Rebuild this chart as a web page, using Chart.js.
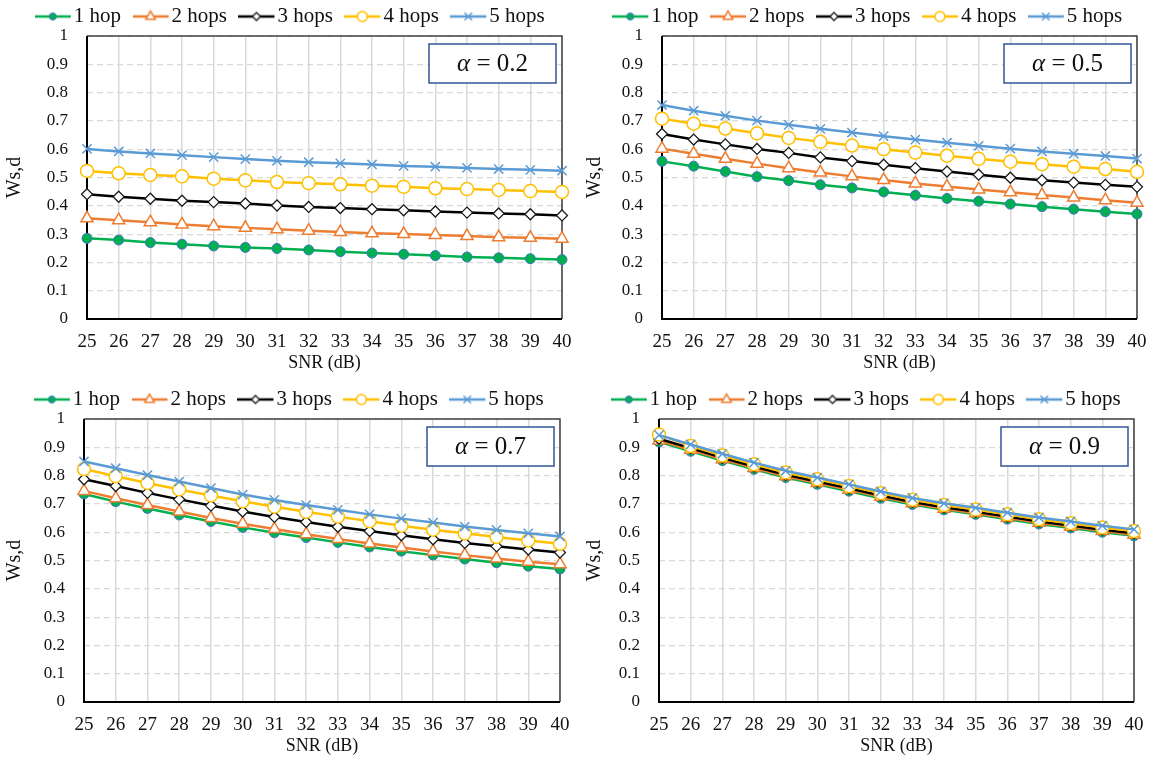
<!DOCTYPE html>
<html>
<head>
<meta charset="utf-8">
<title>Ws,d vs SNR</title>
<script src="https://cdn.jsdelivr.net/npm/chart.js@4.4.0/dist/chart.umd.min.js"></script>
<style>
    html, body { margin: 0; padding: 0; background: #fff; }
    #wrap { position: relative; width: 1160px; height: 761px; overflow: hidden; }
    .panel { position: absolute; width: 580px; height: 378px; }
</style>
</head>
<body>
<div id="wrap">
    <div class="panel" style="left:0;top:0"><canvas id="chartA02"></canvas></div>
    <div class="panel" style="left:580px;top:0"><canvas id="chartA05"></canvas></div>
    <div class="panel" style="left:0;top:383px"><canvas id="chartA07"></canvas></div>
    <div class="panel" style="left:580px;top:383px"><canvas id="chartA09"></canvas></div>
</div>
<script>
// SNR axis categories and y tick labels
const snr = ['25', '26', '27', '28', '29', '30', '31', '32', '33', '34', '35', '36', '37', '38', '39', '40'];
const yTickLabels = ['0', '0.1', '0.2', '0.3', '0.4', '0.5', '0.6', '0.7', '0.8', '0.9', '1'];
const hopNames = ['1 hop', '2 hops', '3 hops', '4 hops', '5 hops'];

// alpha = 0.2
const a02Hop1 = [0.285, 0.279, 0.270, 0.264, 0.258, 0.253, 0.249, 0.244, 0.238, 0.233, 0.229, 0.224, 0.219, 0.216, 0.213, 0.210];
const a02Hop2 = [0.356, 0.349, 0.342, 0.334, 0.328, 0.322, 0.317, 0.312, 0.307, 0.303, 0.300, 0.297, 0.293, 0.289, 0.287, 0.284];
const a02Hop3 = [0.441, 0.432, 0.425, 0.418, 0.413, 0.408, 0.401, 0.396, 0.392, 0.388, 0.384, 0.380, 0.376, 0.373, 0.370, 0.366];
const a02Hop4 = [0.523, 0.515, 0.509, 0.504, 0.496, 0.490, 0.484, 0.480, 0.476, 0.471, 0.467, 0.462, 0.459, 0.456, 0.452, 0.449];
const a02Hop5 = [0.601, 0.592, 0.585, 0.579, 0.572, 0.565, 0.559, 0.554, 0.550, 0.546, 0.541, 0.538, 0.534, 0.530, 0.527, 0.524];

// alpha = 0.5
const a05Hop1 = [0.557, 0.540, 0.521, 0.503, 0.489, 0.474, 0.463, 0.449, 0.437, 0.426, 0.416, 0.406, 0.397, 0.388, 0.379, 0.371];
const a05Hop2 = [0.602, 0.584, 0.566, 0.549, 0.533, 0.518, 0.504, 0.491, 0.479, 0.468, 0.458, 0.448, 0.438, 0.429, 0.420, 0.411];
const a05Hop3 = [0.654, 0.634, 0.617, 0.601, 0.587, 0.571, 0.558, 0.545, 0.533, 0.521, 0.510, 0.499, 0.490, 0.482, 0.474, 0.467];
const a05Hop4 = [0.708, 0.690, 0.673, 0.656, 0.640, 0.626, 0.613, 0.600, 0.588, 0.577, 0.566, 0.556, 0.547, 0.538, 0.530, 0.520];
const a05Hop5 = [0.756, 0.736, 0.718, 0.701, 0.686, 0.672, 0.659, 0.646, 0.634, 0.623, 0.612, 0.602, 0.592, 0.584, 0.576, 0.567];

// alpha = 0.7
const a07Hop1 = [0.735, 0.708, 0.684, 0.661, 0.638, 0.617, 0.598, 0.581, 0.564, 0.548, 0.533, 0.519, 0.505, 0.492, 0.480, 0.470];
const a07Hop2 = [0.746, 0.720, 0.696, 0.673, 0.650, 0.630, 0.611, 0.593, 0.576, 0.560, 0.546, 0.532, 0.519, 0.507, 0.496, 0.487];
const a07Hop3 = [0.787, 0.763, 0.739, 0.716, 0.694, 0.673, 0.654, 0.636, 0.619, 0.604, 0.589, 0.575, 0.562, 0.550, 0.539, 0.528];
const a07Hop4 = [0.823, 0.798, 0.774, 0.751, 0.730, 0.709, 0.690, 0.672, 0.655, 0.639, 0.623, 0.609, 0.596, 0.583, 0.571, 0.559];
const a07Hop5 = [0.850, 0.826, 0.802, 0.779, 0.756, 0.733, 0.714, 0.696, 0.679, 0.663, 0.648, 0.634, 0.620, 0.608, 0.596, 0.585];

// alpha = 0.9
const a09Hop1 = [0.919, 0.886, 0.853, 0.822, 0.793, 0.769, 0.745, 0.720, 0.698, 0.679, 0.663, 0.646, 0.629, 0.615, 0.600, 0.587];
const a09Hop2 = [0.924, 0.891, 0.858, 0.827, 0.798, 0.774, 0.750, 0.725, 0.702, 0.683, 0.667, 0.650, 0.633, 0.619, 0.604, 0.591];
const a09Hop3 = [0.930, 0.897, 0.863, 0.832, 0.803, 0.779, 0.755, 0.730, 0.707, 0.688, 0.672, 0.655, 0.638, 0.624, 0.609, 0.596];
const a09Hop4 = [0.945, 0.905, 0.871, 0.840, 0.811, 0.787, 0.763, 0.738, 0.715, 0.696, 0.680, 0.663, 0.646, 0.632, 0.617, 0.604];
const a09Hop5 = [0.943, 0.910, 0.877, 0.846, 0.817, 0.793, 0.769, 0.744, 0.721, 0.702, 0.686, 0.669, 0.652, 0.638, 0.623, 0.610];

const SERIF = '"Liberation Serif", "Times New Roman", serif';
Chart.defaults.font.family = SERIF;
Chart.defaults.color = '#111';

// line + marker look for each hop count
const hopStyles = [
    { color: '#00B050', pointStyle: 'circle', radius: 5, fill: '#00B050', edge: '#4472C4', edgeWidth: 1 },
    { color: '#ED7D31', pointStyle: 'triangle', radius: 7, fill: '#fff', edge: '#ED7D31', edgeWidth: 1.5 },
    { color: '#000000', pointStyle: 'rectRot', radius: 5.5, fill: '#fff', edge: '#1a1a1a', edgeWidth: 1.3 },
    { color: '#FFC000', pointStyle: 'circle', radius: 6.5, fill: '#fff', edge: '#FFC000', edgeWidth: 1.5 },
    { color: '#5B9BD5', pointStyle: 'crossRot', radius: 6.5, fill: '#fff', edge: '#5B9BD5', edgeWidth: 1.5 }
];

// small marker painter for the legend icons
function paintMarker(ctx, style, x, y, r) {
    ctx.fillStyle = style.fill;
    ctx.strokeStyle = style.edge;
    ctx.lineWidth = style.edgeWidth;
    ctx.beginPath();
    if (style.pointStyle === 'circle') {
        ctx.arc(x, y, r, 0, Math.PI * 2);
        ctx.fill();
    } else if (style.pointStyle === 'triangle') {
        for (let k = 0; k < 3; k++) {
            const a = k * 2 * Math.PI / 3;
            const px = x + Math.sin(a) * r, py = y - Math.cos(a) * r;
            k === 0 ? ctx.moveTo(px, py) : ctx.lineTo(px, py);
        }
        ctx.closePath();
        ctx.fill();
    } else if (style.pointStyle === 'rectRot') {
        ctx.moveTo(x, y - r); ctx.lineTo(x + r, y); ctx.lineTo(x, y + r); ctx.lineTo(x - r, y);
        ctx.closePath();
        ctx.fill();
    } else {
        const d = r * 0.75;
        ctx.moveTo(x - d, y - d); ctx.lineTo(x + d, y + d);
        ctx.moveTo(x + d, y - d); ctx.lineTo(x - d, y + d);
    }
    ctx.stroke();
}

// legend icon: 36px line with the marker in the middle
const LINE_LEN = 36, ICON_W = 37, ICON_H = 16;
const legendIcons = hopStyles.map(style => {
    const c = document.createElement('canvas');
    c.width = ICON_W;
    c.height = ICON_H;
    const ctx = c.getContext('2d');
    ctx.strokeStyle = style.color;
    ctx.lineWidth = 2.5;
    ctx.beginPath();
    ctx.moveTo(0, ICON_H / 2);
    ctx.lineTo(LINE_LEN, ICON_H / 2);
    ctx.stroke();
    paintMarker(ctx, style, LINE_LEN / 2, ICON_H / 2, style.radius - 1.5);
    return c;
});

// fixed legend height so every plot box starts at the same y,
// and the legend row nudged right to sit over the plot
const LEGEND_H = 50;
const LEGEND_SHIFT = 13;
const legendHeight = {
    id: 'legendHeight',
    beforeLayout(chart) {
        const legend = chart.legend;
        if (legend && !legend._fixedHeight) {
            const fit = legend.fit;
            legend.fit = function () {
                fit.call(this);
                this.height = LEGEND_H;
            };
            const draw = legend.draw;
            legend.draw = function () {
                this.ctx.save();
                this.ctx.translate(LEGEND_SHIFT, 0);
                draw.call(this);
                this.ctx.restore();
            };
            legend._fixedHeight = true;
        }
    }
};

// plot frame: dark axes on left/bottom, thinner grey edge on top/right
const plotFrame = {
    id: 'plotFrame',
    beforeDatasetsDraw(chart) {
        const { ctx, chartArea: { left, right, top, bottom } } = chart;
        ctx.save();
        ctx.lineWidth = 1.5;
        ctx.strokeStyle = '#404040';
        ctx.beginPath();
        ctx.moveTo(left, top);
        ctx.lineTo(right, top);
        ctx.lineTo(right, bottom);
        ctx.stroke();
        ctx.lineWidth = 2;
        ctx.strokeStyle = '#000';
        ctx.beginPath();
        ctx.moveTo(left, top);
        ctx.lineTo(left, bottom);
        ctx.lineTo(right, bottom);
        ctx.stroke();
        ctx.restore();
    }
};

// "α = x" text box in the upper right corner of the plot
const alphaBox = {
    id: 'alphaBox',
    afterDraw(chart, args, opts) {
        const { ctx, chartArea: { right, top } } = chart;
        const w = 127, h = 39;
        const x = right - 6 - w, y = top + 8;
        ctx.save();
        ctx.fillStyle = '#fff';
        ctx.fillRect(x, y, w, h);
        ctx.strokeStyle = '#2F5597';
        ctx.lineWidth = 1.5;
        ctx.strokeRect(x, y, w, h);

        const greek = 'α';
        const rest = ' = ' + opts.value;
        const italic = 'italic 25px ' + SERIF;
        const normal = '25px ' + SERIF;
        ctx.font = italic;
        const gw = ctx.measureText(greek).width;
        ctx.font = normal;
        const rw = ctx.measureText(rest).width;
        const startX = x + (w - gw - rw) / 2;
        const midY = y + h / 2 + 1;
        ctx.fillStyle = '#111';
        ctx.textBaseline = 'middle';
        ctx.font = italic;
        ctx.fillText(greek, startX, midY);
        ctx.font = normal;
        ctx.fillText(rest, startX + gw, midY);
        ctx.restore();
    }
};

function buildDatasets(series) {
    return series.map((data, i) => {
        const s = hopStyles[i];
        return {
            label: hopNames[i],
            data: data,
            borderColor: s.color,
            backgroundColor: s.color,
            borderWidth: 2.5,
            tension: 0,
            pointStyle: s.pointStyle,
            pointRadius: s.radius,
            pointBackgroundColor: s.fill,
            pointBorderColor: s.edge,
            pointBorderWidth: s.edgeWidth,
            // later series sit on top
            order: series.length - i
        };
    });
}

function createPanel(canvasId, alpha, series, plotLeft, plotRight) {
    const canvas = document.getElementById(canvasId);
    return new Chart(canvas, {
        type: 'line',
        data: {
            labels: snr,
            datasets: buildDatasets(series)
        },
        plugins: [legendHeight, plotFrame, alphaBox],
        options: {
            responsive: true,
            maintainAspectRatio: false,
            animation: false,
            events: [],
            layout: {
                padding: { top: -14, left: 0, right: 580 - plotRight, bottom: 0 }
            },
            plugins: {
                legend: {
                    position: 'top',
                    labels: {
                        usePointStyle: true,
                        pointStyleWidth: 20,
                        padding: 20,
                        color: '#111',
                        font: { size: 21 },
                        sort: (a, b) => a.datasetIndex - b.datasetIndex,
                        generateLabels: (chart) => {
                            const items = Chart.defaults.plugins.legend.labels.generateLabels(chart);
                            items.forEach(item => {
                                item.pointStyle = legendIcons[item.datasetIndex];
                                item.rotation = 0;
                            });
                            return items;
                        }
                    }
                },
                tooltip: { enabled: false },
                alphaBox: { value: alpha }
            },
            scales: {
                x: {
                    type: 'category',
                    offset: false,
                    grid: {
                        color: '#D9D9D9',
                        lineWidth: 1.5,
                        drawTicks: false
                    },
                    border: { display: false },
                    ticks: {
                        autoSkip: false,
                        maxRotation: 0,
                        padding: 12,
                        color: '#111',
                        font: { size: 19 }
                    },
                    title: {
                        display: true,
                        text: 'SNR (dB)',
                        color: '#111',
                        font: { size: 18 },
                        padding: { top: 0, bottom: 4 }
                    },
                    afterFit: (scale) => {
                        scale.height = 59;
                        scale.paddingLeft = 0;
                        scale.paddingRight = 0;
                    }
                },
                y: {
                    min: 0,
                    max: 1,
                    grid: {
                        color: '#D9D9D9',
                        lineWidth: 1.2,
                        drawTicks: false
                    },
                    border: { display: false, dash: [6, 4] },
                    ticks: {
                        stepSize: 0.1,
                        padding: 19,
                        color: '#111',
                        font: { size: 17 },
                        callback: (value, index) => yTickLabels[index]
                    },
                    title: {
                        display: true,
                        text: 'Ws,d',
                        color: '#111',
                        font: { size: 20 },
                        padding: { top: 3, bottom: 0 }
                    },
                    afterFit: (scale) => {
                        scale.width = plotLeft;
                        scale.paddingTop = 0;
                        scale.paddingBottom = 0;
                    }
                }
            }
        }
    });
}

createPanel('chartA02', '0.2', [a02Hop1, a02Hop2, a02Hop3, a02Hop4, a02Hop5], 87, 562);
createPanel('chartA05', '0.5', [a05Hop1, a05Hop2, a05Hop3, a05Hop4, a05Hop5], 82, 557);
createPanel('chartA07', '0.7', [a07Hop1, a07Hop2, a07Hop3, a07Hop4, a07Hop5], 84, 560);
createPanel('chartA09', '0.9', [a09Hop1, a09Hop2, a09Hop3, a09Hop4, a09Hop5], 79, 554);
</script>
</body>
</html>
